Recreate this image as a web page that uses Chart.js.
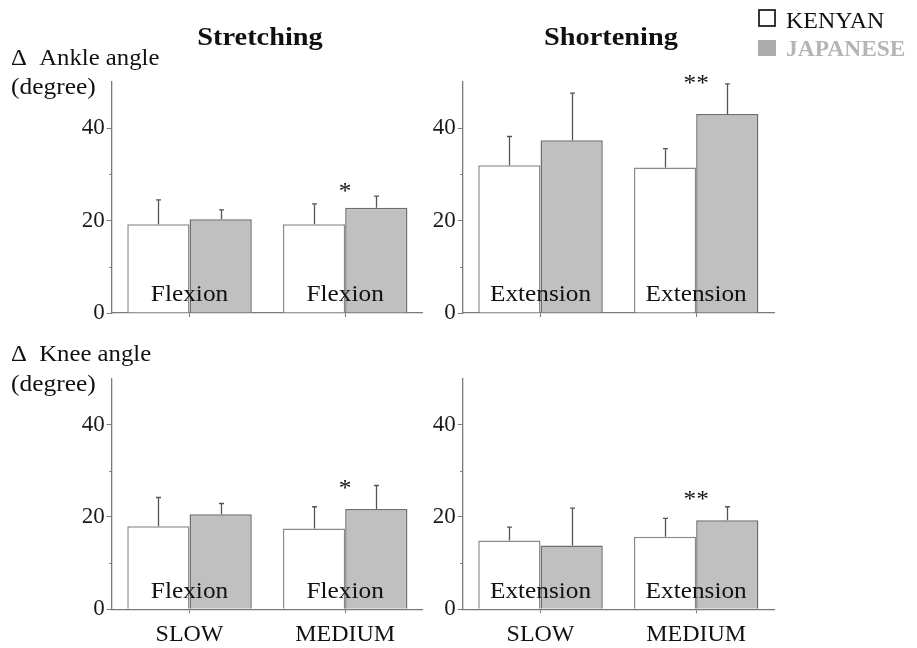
<!DOCTYPE html>
<html><head><meta charset="utf-8">
<script src="https://cdn.jsdelivr.net/npm/chart.js@4.4.1/dist/chart.umd.min.js"></script>
<style>
html,body{margin:0;padding:0;background:#fff;width:917px;height:648px;overflow:hidden}
canvas{position:absolute;left:0;top:0}
</style></head><body>
<canvas id="c0" width="917" height="648"></canvas>
<canvas id="c1" width="917" height="648"></canvas>
<canvas id="c2" width="917" height="648"></canvas>
<canvas id="c3" width="917" height="648"></canvas>
<script>
// ---------- data ----------
const categories = ['SLOW', 'MEDIUM'];
const seriesNames = ['KENYAN', 'JAPANESE'];
const yTickLabels = [0, 20, 40];
const yMinorTicks = [10, 30];

const ankleStretchKenyan     = [19.2, 19.2];
const ankleStretchKenyanSD   = [5.3, 4.4];
const ankleStretchJapanese   = [20.3, 22.8];
const ankleStretchJapaneseSD = [2.0, 2.5];
const ankleStretchSig        = ['', '*'];
const ankleStretchSigLevel   = [null, 27.1];

const ankleShortenKenyan     = [32.0, 31.5];
const ankleShortenKenyanSD   = [6.2, 4.1];
const ankleShortenJapanese   = [37.4, 43.1];
const ankleShortenJapaneseSD = [10.2, 6.5];
const ankleShortenSig        = ['', '**'];
const ankleShortenSigLevel   = [null, 50.4];

const kneeStretchKenyan      = [18.0, 17.5];
const kneeStretchKenyanSD    = [6.2, 4.7];
const kneeStretchJapanese    = [20.6, 21.7];
const kneeStretchJapaneseSD  = [2.3, 5.1];
const kneeStretchSig         = ['', '*'];
const kneeStretchSigLevel    = [null, 26.9];

const kneeShortenKenyan      = [14.9, 15.7];
const kneeShortenKenyanSD    = [2.9, 4.0];
const kneeShortenJapanese    = [13.8, 19.3];
const kneeShortenJapaneseSD  = [8.1, 2.9];
const kneeShortenSig         = ['', '**'];
const kneeShortenSigLevel    = [null, 24.5];

const panelTitles    = ['Stretching', 'Shortening'];
const movementLabels = ['Flexion', 'Extension'];
const rowLabels      = ['\u0394  Ankle angle', '\u0394  Knee angle'];
const unitLabel      = '(degree)';
const movementLabelLevel = 2.5;

// ---------- styling / layout ----------
const SERIF = '"Liberation Serif", "Times New Roman", serif';
const AXIS_COLOR = '#7a7a7a';
const Y_AXIS_W = 40, X_AXIS_H = 40;
const W = 917, H = 648;

const panels = [
  { id: 'c0', area: { l: 111.7, r: 423, t: 82, b: 313 }, showX: false,
    k: ankleStretchKenyan, kSD: ankleStretchKenyanSD, j: ankleStretchJapanese, jSD: ankleStretchJapaneseSD,
    sig: ankleStretchSig, sigLevel: ankleStretchSigLevel, move: movementLabels[0], page: true },
  { id: 'c1', area: { l: 462.7, r: 774, t: 82, b: 313 }, showX: false,
    k: ankleShortenKenyan, kSD: ankleShortenKenyanSD, j: ankleShortenJapanese, jSD: ankleShortenJapaneseSD,
    sig: ankleShortenSig, sigLevel: ankleShortenSigLevel, move: movementLabels[1] },
  { id: 'c2', area: { l: 111.7, r: 423, t: 378.3, b: 609.3 }, showX: true,
    k: kneeStretchKenyan, kSD: kneeStretchKenyanSD, j: kneeStretchJapanese, jSD: kneeStretchJapaneseSD,
    sig: kneeStretchSig, sigLevel: kneeStretchSigLevel, move: movementLabels[0] },
  { id: 'c3', area: { l: 462.7, r: 774, t: 378.3, b: 609.3 }, showX: true,
    k: kneeShortenKenyan, kSD: kneeShortenKenyanSD, j: kneeShortenJapanese, jSD: kneeShortenJapaneseSD,
    sig: kneeShortenSig, sigLevel: kneeShortenSigLevel, move: movementLabels[1] },
];

// draws real text, widened horizontally by sx around its anchor
function wideText(ctx, text, x, y, sx) {
  ctx.save();
  ctx.translate(x, y);
  ctx.scale(sx, 1);
  ctx.fillText(text, 0, 0);
  ctx.restore();
}

const decorPlugin = {
  id: 'decor',
  afterDatasetsDraw(chart, args, opts) {
    const p = opts.panel;
    const ctx = chart.ctx;
    const xs = chart.scales.x, ys = chart.scales.y;
    ctx.save();
    // error bars
    const sds = [p.kSD, p.jSD];
    [0, 1].forEach(di => {
      const meta = chart.getDatasetMeta(di);
      const vals = chart.data.datasets[di].data;
      meta.data.forEach((el, i) => {
        const yTop = ys.getPixelForValue(vals[i] + sds[di][i]);
        const x = Math.round(el.x) + 0.5;
        ctx.strokeStyle = '#555';
        ctx.lineWidth = 1.3;
        ctx.beginPath();
        ctx.moveTo(x, el.y);
        ctx.lineTo(x, yTop);
        ctx.moveTo(x - 2.5, yTop);
        ctx.lineTo(x + 2.5, yTop);
        ctx.stroke();
      });
    });
    // minor y ticks
    ctx.strokeStyle = AXIS_COLOR;
    ctx.lineWidth = 1;
    yMinorTicks.forEach(v => {
      const y = Math.round(ys.getPixelForValue(v)) + 0.5;
      ctx.beginPath();
      ctx.moveTo(xs.left - 2.5, y);
      ctx.lineTo(xs.left, y);
      ctx.stroke();
    });
    // movement labels and significance marks
    ctx.fillStyle = '#111';
    ctx.textAlign = 'center';
    ctx.textBaseline = 'alphabetic';
    categories.forEach((c, i) => {
      const cx = xs.getPixelForValue(i);
      ctx.font = '23px ' + SERIF;
      wideText(ctx, p.move, cx, ys.getPixelForValue(movementLabelLevel), 1.1);
      if (p.sig[i]) {
        ctx.font = '23px ' + SERIF;
        wideText(ctx, p.sig[i], cx, ys.getPixelForValue(p.sigLevel[i]) + 10, 1.1);
      }
    });
    ctx.restore();
  },
  afterDraw(chart, args, opts) {
    if (!opts.panel.page) return;
    const ctx = chart.ctx;
    ctx.save();
    ctx.fillStyle = '#111';
    ctx.textBaseline = 'alphabetic';
    // titles
    ctx.textAlign = 'center';
    ctx.font = 'bold 26px ' + SERIF;
    wideText(ctx, panelTitles[0], 260, 45, 1.09);
    wideText(ctx, panelTitles[1], 611, 45, 1.09);
    // row labels
    ctx.textAlign = 'left';
    ctx.font = '24px ' + SERIF;
    wideText(ctx, rowLabels[0], 11, 65, 1.03);
    wideText(ctx, unitLabel, 11, 94, 1.06);
    wideText(ctx, rowLabels[1], 11, 361, 1.03);
    wideText(ctx, unitLabel, 11, 391, 1.06);
    // legend
    ctx.strokeStyle = '#222';
    ctx.lineWidth = 1.8;
    ctx.fillStyle = '#fff';
    ctx.fillRect(759, 10, 16, 16);
    ctx.strokeRect(759, 10, 16, 16);
    ctx.fillStyle = '#111';
    ctx.font = '23px ' + SERIF;
    wideText(ctx, seriesNames[0], 786, 28, 1.04);
    ctx.fillStyle = '#ababab';
    ctx.fillRect(758, 40, 18, 16);
    ctx.fillStyle = '#b5b5b5';
    ctx.font = 'bold 23px ' + SERIF;
    wideText(ctx, seriesNames[1], 786, 56, 1.02);
    ctx.restore();
  }
};

panels.forEach(p => {
  const a = p.area;
  new Chart(document.getElementById(p.id), {
    type: 'bar',
    data: {
      labels: categories,
      datasets: [
        { label: seriesNames[0], data: p.k, backgroundColor: '#ffffff', borderColor: '#8a8a8a',
          borderWidth: 1.5, barPercentage: 1, categoryPercentage: 0.8 },
        { label: seriesNames[1], data: p.j, backgroundColor: '#c0c0c0', borderColor: '#6e6e6e',
          borderWidth: 1.5, barPercentage: 1, categoryPercentage: 0.8 }
      ]
    },
    options: {
      responsive: false,
      animation: false,
      devicePixelRatio: 1,
      layout: { padding: { left: a.l - Y_AXIS_W, right: W - a.r, top: a.t, bottom: H - a.b - X_AXIS_H } },
      plugins: {
        legend: { display: false },
        tooltip: { enabled: false },
        decor: { panel: p }
      },
      scales: {
        x: {
          type: 'category',
          offset: true,
          grid: { display: true, offset: false, drawOnChartArea: false, drawTicks: true,
                  tickLength: 4, tickColor: AXIS_COLOR },
          border: { display: true, color: AXIS_COLOR, width: 1.3 },
          ticks: { display: p.showX, color: '#111', padding: 7, font: { family: SERIF, size: 24 },
                   maxRotation: 0, autoSkip: false },
          afterFit(s) { s.height = X_AXIS_H; s.paddingLeft = 0; s.paddingRight = 0; }
        },
        y: {
          min: 0, max: 50,
          grid: { display: true, drawOnChartArea: false, drawTicks: true, tickLength: 5,
                  tickColor: ctx => (yTickLabels.includes(ctx.tick && ctx.tick.value) ? AXIS_COLOR : 'rgba(0,0,0,0)') },
          border: { display: true, color: AXIS_COLOR, width: 1.3 },
          ticks: { stepSize: 10, padding: 2, color: '#1a1a1a', font: { family: SERIF, size: 23 },
                   callback: v => (yTickLabels.includes(v) ? String(v) : '') },
          afterFit(s) { s.width = Y_AXIS_W; s.paddingTop = 0; s.paddingBottom = 0; }
        }
      }
    },
    plugins: [decorPlugin]
  });
});
</script>
</body></html>
